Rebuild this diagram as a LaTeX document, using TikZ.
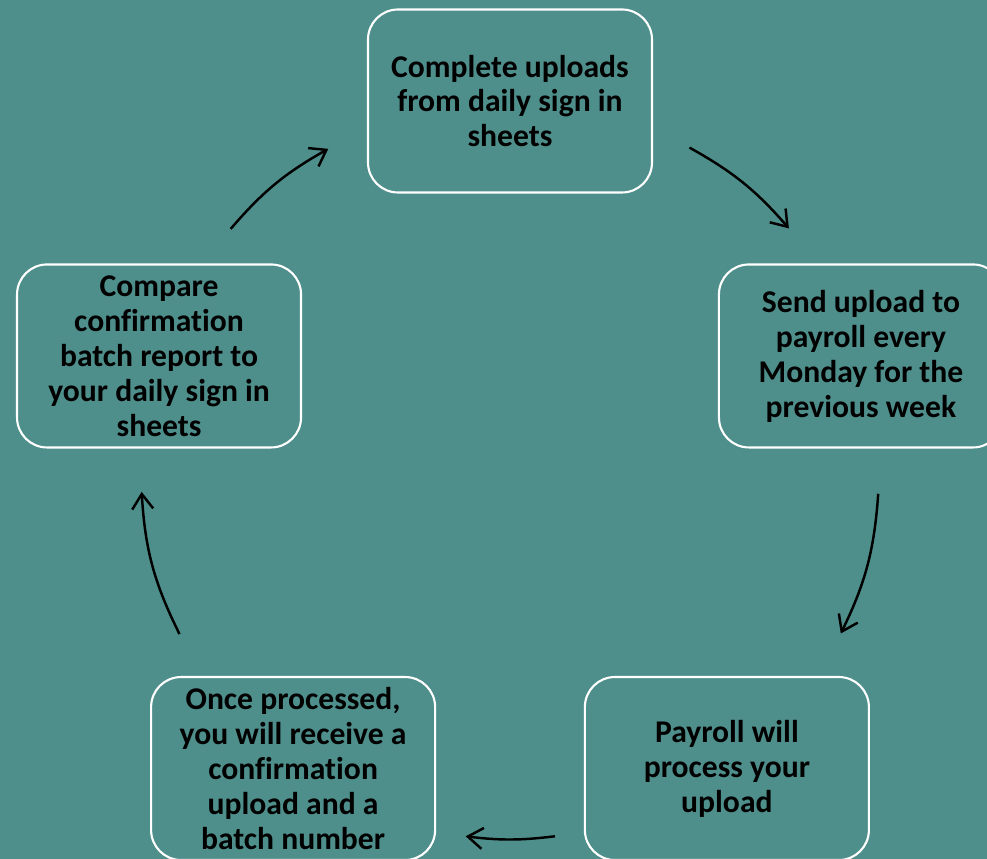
\documentclass[tikz,border=0pt]{standalone}
\usepackage{fontspec}
\setmainfont[Ligatures=NoCommon]{Carlito}
\usetikzlibrary{arrows.meta}
\definecolor{bgteal}{RGB}{78,143,140}

\begin{document}
\begin{tikzpicture}[
    stage/.style={rectangle, draw=white, line width=1.2pt, rounded corners=0.6cm, minimum width=5.68cm, minimum height=3.66cm, align=center, text=black, font=\fontsize{18}{19.9}\selectfont\bfseries},
    flow/.style={-{Straight Barb[length=3mm, width=4.2mm]}, line width=1.4pt, black}]

    % Background
    \fill[bgteal] (-10.2,9.4) rectangle (9.54,-7.78);
    \useasboundingbox (-10.2,9.4) rectangle (9.54,-7.78);

    % Stages
    \node[stage] (upload) at (90:7.38) {Complete uploads\\from daily sign in\\sheets};
    \node[stage] (send) at (18:7.38) {Send upload to\\payroll every\\Monday for the\\previous week};
    \node[stage] (process) at (-54:7.38) {Payroll will\\process your\\upload};
    \node[stage] (confirm) at (-126:7.38) {Once processed,\\you will receive a\\confirmation\\upload and a\\batch number};
    \node[stage] (compare) at (162:7.38) {Compare\\confirmation\\batch report to\\your daily sign in\\sheets};

    % Arrow ends
    \coordinate (a1s) at (60.9:7.38);
    \coordinate (a1e) at (40.9:7.38);
    \coordinate (a2s) at (-3.7:7.38);
    \coordinate (a2e) at (-26.3:7.38);
    \coordinate (a3s) at (-83:7.38);
    \coordinate (a3e) at (-96.9:7.38);
    \coordinate (a4s) at (206.4:7.38);
    \coordinate (a4e) at (183.4:7.38);
    \coordinate (a5s) at (139.2:7.38);
    \coordinate (a5e) at (119.5:7.38);

    \draw[flow] (a1s) to[bend left=10] (a1e);
    \draw[flow] (a2s) to[bend left=11] (a2e);
    \draw[flow] (a3s) to[bend left=7] (a3e);
    \draw[flow] (a4s) to[bend left=11.5] (a4e);
    \draw[flow] (a5s) to[bend left=10] (a5e);

\end{tikzpicture}
\end{document}
